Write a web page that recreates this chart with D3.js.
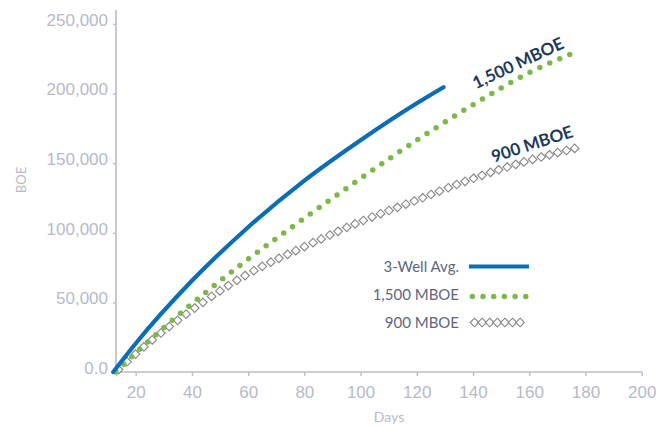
<!DOCTYPE html>
<html>
<head>
<meta charset="utf-8">
<script src="https://cdn.jsdelivr.net/npm/d3@7"></script>
<style>
  body { margin: 0; background: #fff; }
  svg { display: block; font-family: Lato, "Open Sans", sans-serif; }
</style>
</head>
<body>
<svg id="chart" width="672" height="426"></svg>
<script>
// data
var wellDays = [12, 20, 40, 60, 80, 100, 120, 129.5];
var wellAvg = [0, 20500, 65500, 104000, 137500, 166500, 193000, 204500];
var days1500 = [13, 20, 40, 60, 80, 100, 120, 140, 160, 175];
var mboe1500 = [0, 13600, 49000, 81000, 110500, 139000, 166500, 192000, 215000, 228500];
var days900 = [13, 20, 40, 60, 80, 100, 120, 140, 160, 178];
var mboe900 = [0, 13000, 44500, 70500, 90000, 108000, 123500, 139000, 152000, 161500];
var xTicks = [20, 40, 60, 80, 100, 120, 140, 160, 180, 200];
var yTicks = [0, 50000, 100000, 150000, 200000, 250000];
var legendNames = ["3-Well Avg.", "1,500 MBOE", "900 MBOE"];

var axisColor = "#babdcc";
var blue = "#0a6db5", green = "#7cb84a", gray = "#858585", navy = "#1d3a5a";

var svg = d3.select("#chart");
var x = d3.scaleLinear().domain([13, 200]).range([116, 641.7]);
var y = d3.scaleLinear().domain([0, 260000]).range([372, 10]);

// axes
var xAxis = svg.append("g").attr("transform", "translate(0,372)")
  .call(d3.axisBottom(x).tickValues([13].concat(xTicks)).tickSize(4).tickPadding(10)
    .tickFormat(d => d === 13 ? "" : d));
var yAxis = svg.append("g").attr("transform", "translate(116,0)")
  .call(d3.axisLeft(y).tickValues(yTicks).tickSize(3).tickPadding(5)
    .tickFormat(d => d === 0 ? "0.0" : d3.format(",")(d)));
[xAxis, yAxis].forEach(function (g) {
  g.select(".domain").attr("stroke", axisColor).attr("stroke-width", 1.6);
  g.selectAll(".tick line").attr("stroke", axisColor).attr("stroke-width", 1.4);
  g.selectAll("text").attr("fill", "#b7bac9").style("font-size", "17px");
});
yAxis.select(".domain").attr("d", "M0,372V10");
xAxis.select(".domain").attr("d", "M116,0H641.7");
yAxis.selectAll("text").attr("dy", "0.08em");

svg.append("text").attr("transform", "translate(26,180) rotate(-90)")
  .attr("text-anchor", "middle").attr("fill", "#b7bac9").style("font-size", "13px").text("BOE");
svg.append("text").attr("x", 389).attr("y", 422)
  .attr("text-anchor", "middle").attr("fill", "#b7bac9").style("font-size", "14px").text("Days");

var line = d3.line().x(d => x(d[0])).y(d => y(d[1])).curve(d3.curveMonotoneX);

// 900 MBOE: diamonds along the curve
var p900 = svg.append("path").datum(d3.zip(days900, mboe900))
  .attr("d", line).attr("fill", "none").attr("stroke", "none");
var node = p900.node(), len = node.getTotalLength();
var diamondPts = [], nextX = x(13) + 2.3;
for (var l = 0; l <= len; l += 0.5) {
  var pt = node.getPointAtLength(l);
  if (pt.x >= nextX) { diamondPts.push(pt); nextX += 8.45; }
}
function diamond(g, pts) {
  g.selectAll("path").data(pts).enter().append("path")
    .attr("d", d => "M" + d.x + "," + (d.y - 4.3) + "L" + (d.x + 4.3) + "," + d.y +
      "L" + d.x + "," + (d.y + 4.3) + "L" + (d.x - 4.3) + "," + d.y + "Z")
    .attr("fill", "#fff").attr("stroke", gray).attr("stroke-width", 1.1);
}
diamond(svg.append("g"), diamondPts);

// 1,500 MBOE dotted
svg.append("path").datum(d3.zip(days1500, mboe1500))
  .attr("d", line).attr("fill", "none").attr("stroke", green)
  .attr("stroke-width", 5.5).attr("stroke-linecap", "round").attr("stroke-dasharray", "0 10.9");

// 3-Well Avg
svg.append("path").datum(d3.zip(wellDays, wellAvg))
  .attr("d", line).attr("fill", "none").attr("stroke", blue)
  .attr("stroke-width", 4.2).attr("stroke-linecap", "round");

// rotated labels
svg.append("text").attr("transform", "translate(518,63) rotate(-25)")
  .attr("text-anchor", "middle").attr("dy", "0.35em").attr("fill", navy)
  .style("font-size", "17px").style("font-weight", "bold").text("1,500 MBOE");
svg.append("text").attr("transform", "translate(532,144) rotate(-18)")
  .attr("text-anchor", "middle").attr("dy", "0.35em").attr("fill", navy)
  .style("font-size", "17px").style("font-weight", "bold").text("900 MBOE");

// legend
var legY = [266.5, 295, 322.5];
var leg = svg.append("g");
leg.selectAll("text").data(legendNames).enter().append("text")
  .attr("x", 459).attr("y", (d, i) => legY[i]).attr("dy", "0.35em")
  .attr("text-anchor", "end").attr("fill", "#5e677d").style("font-size", "15px").text(d => d);
leg.append("line").attr("x1", 469).attr("x2", 529).attr("y1", legY[0]).attr("y2", legY[0])
  .attr("stroke", blue).attr("stroke-width", 4);
leg.append("line").attr("x1", 472.3).attr("x2", 526).attr("y1", legY[1] + 1.5).attr("y2", legY[1] + 1.5)
  .attr("stroke", green).attr("stroke-width", 5.5).attr("stroke-linecap", "round")
  .attr("stroke-dasharray", "0 10.7");
diamond(leg.append("g"), d3.range(7).map(i => ({ x: 474.5 + i * 7.6, y: legY[2] })));
</script>
</body>
</html>
